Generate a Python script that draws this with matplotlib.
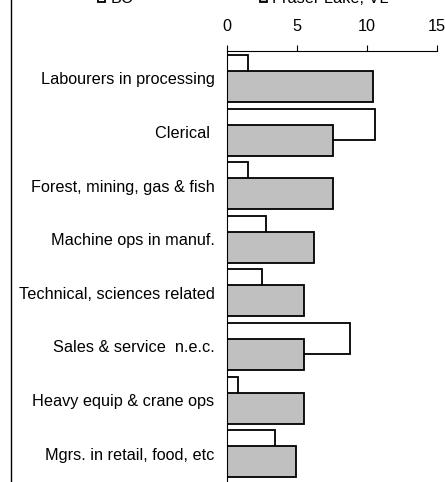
import matplotlib
matplotlib.use('Agg')
import matplotlib.pyplot as plt
from matplotlib.lines import Line2D
import numpy as np

# occupation groups, top to bottom
categories = ['Labourers in processing', 'Clerical ', 'Forest, mining, gas & fish',
              'Machine ops in manuf.', 'Technical, sciences related',
              'Sales & service  n.e.c.', 'Heavy equip & crane ops',
              'Mgrs. in retail, food, etc']
bc = [1.5, 10.6, 1.5, 2.8, 2.5, 8.8, 0.8, 3.4]
fraser_lake = [10.4, 7.6, 7.6, 6.2, 5.5, 5.5, 5.5, 4.9]
series_names = ['BC', 'Fraser Lake, VL']
x_ticks = [0, 5, 10, 15]

plt.rcParams['font.family'] = ['Liberation Sans', 'DejaVu Sans']

W, H = 445, 482
fig = plt.figure(figsize=(W / 100, H / 100), dpi=100)
ax = fig.add_axes([227 / W, 0, 210 / W, 431 / H])

y = np.arange(len(categories))
h = 0.58
off = 0.149
b1 = ax.barh(y - off, bc, height=h, color='white', edgecolor='black',
             linewidth=1.3, label=series_names[0])
b2 = ax.barh(y + off, fraser_lake, height=h, color='#c0c0c0', edgecolor='black',
             linewidth=1.3, label=series_names[1])

ax.set_xlim(0, 15)
ax.set_ylim(7.528, -0.513)
ax.xaxis.tick_top()
ax.set_xticks(x_ticks)
ax.tick_params(axis='x', direction='out', length=4.3, width=0.8, pad=8, labelsize=11.7)
ax.set_yticks(y)
ax.set_yticklabels(categories, fontsize=11.7)
ax.tick_params(axis='y', length=0, pad=9)
for s in ['right', 'bottom']:
    ax.spines[s].set_visible(False)
for s in ['left', 'top']:
    ax.spines[s].set_linewidth(0.8)

# legend sits mostly above the cropped frame
fig.legend(handles=[b1, b2], labels=series_names, loc='lower left',
           bbox_to_anchor=(98 / W, 1 - 6 / H), ncol=2, frameon=False,
           fontsize=11.7, handlelength=0.45, handleheight=0.45, handletextpad=0.3,
           columnspacing=7.8, borderpad=0, borderaxespad=0)

# chart frame edge on the left
fig.add_artist(Line2D([11 / W, 11 / W], [0, 1], transform=fig.transFigure,
                      color='black', linewidth=1))

fig.savefig('out.png', dpi=100)
